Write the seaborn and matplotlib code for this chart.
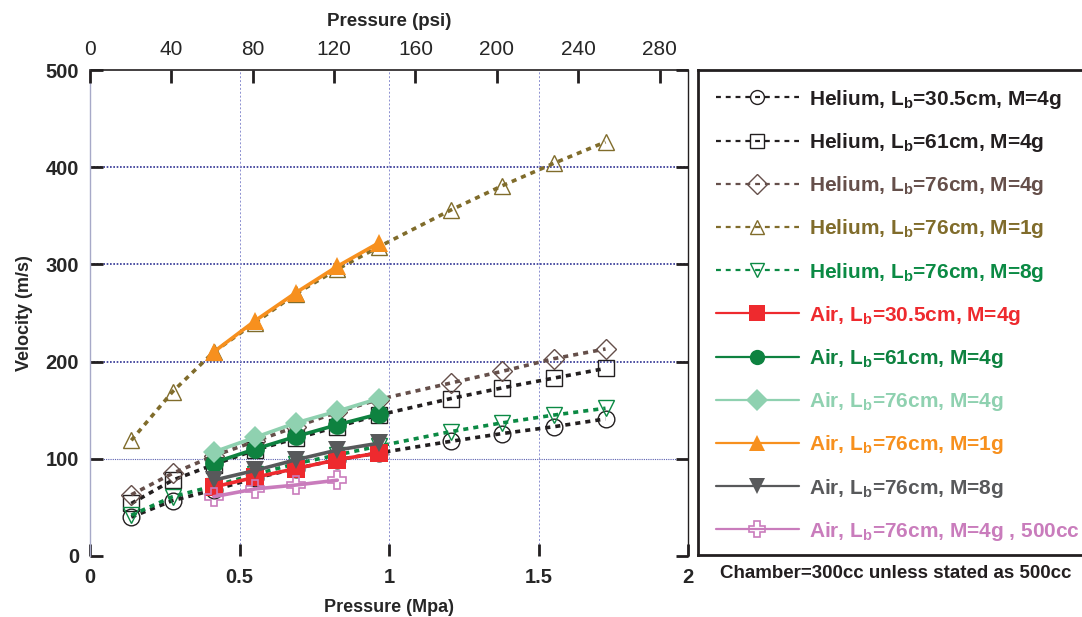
import matplotlib
matplotlib.use("Agg")
import matplotlib.pyplot as plt
import numpy as np
import pandas as pd
import seaborn as sns

# pressures in MPa (20..250 psi steps used in the tests)
p_helium = [0.138, 0.276, 0.414, 0.552, 0.689, 0.827, 0.965, 1.207, 1.379, 1.551, 1.724]
p_air = [0.414, 0.552, 0.689, 0.827, 0.965]
p_air500 = [0.414, 0.552, 0.689, 0.827]

he_305_4g = [40, 57, 68, 80, 90, 99, 106, 118, 126, 133, 141]
he_61_4g = [54, 78, 94, 109, 121, 133, 145, 162, 173, 183, 193]
he_76_4g = [63, 85, 103, 118, 133, 148, 161, 178, 190, 203, 213]
he_76_1g = [119, 169, 210, 240, 270, 295, 318, 356, 381, 404, 426]
he_76_8g = [42, 61, 72, 84, 95, 104, 113, 128, 137, 145, 152]

air_305_4g = [71, 81, 90, 99, 106]
air_61_4g = [96, 110, 123, 135, 146]
air_76_4g = [107, 122, 137, 149, 162]
air_76_1g = [210, 242, 271, 298, 322]
air_76_8g = [78, 88, 99, 109, 116]
air_76_4g_500 = [61, 69, 73, 78]

LB = r"L$_{\mathrm{b}}$"
series = [
    # label, x, y, color, marker, helium?
    (f"Helium, {LB}=30.5cm, M=4g", p_helium, he_305_4g, "#231f20", "o", True),
    (f"Helium, {LB}=61cm, M=4g", p_helium, he_61_4g, "#231f20", "s", True),
    (f"Helium, {LB}=76cm, M=4g", p_helium, he_76_4g, "#654f4a", "D", True),
    (f"Helium, {LB}=76cm, M=1g", p_helium, he_76_1g, "#806c2b", "^", True),
    (f"Helium, {LB}=76cm, M=8g", p_helium, he_76_8g, "#0b8a44", "v", True),
    (f"Air, {LB}=30.5cm, M=4g", p_air, air_305_4g, "#ee2a2e", "s", False),
    (f"Air, {LB}=61cm, M=4g", p_air, air_61_4g, "#0e8240", "o", False),
    (f"Air, {LB}=76cm, M=4g", p_air, air_76_4g, "#8fd1b0", "D", False),
    (f"Air, {LB}=76cm, M=1g", p_air, air_76_1g, "#f7901e", "^", False),
    (f"Air, {LB}=76cm, M=8g", p_air, air_76_8g, "#58595b", "v", False),
    (f"Air, {LB}=76cm, M=4g , 500cc", p_air500, air_76_4g_500, "#c97cbc", "P", False),
]

sns.set_theme(style="white")
plt.rcParams["font.family"] = ["Liberation Sans", "DejaVu Sans"]
plt.rcParams["mathtext.fontset"] = "custom"
plt.rcParams["mathtext.rm"] = "Liberation Sans:bold"
plt.rcParams["mathtext.it"] = "Liberation Sans:bold"
plt.rcParams["mathtext.bf"] = "Liberation Sans:bold"

fig = plt.figure(figsize=(10.82, 6.17), dpi=100)
ax = fig.add_axes([0.0832, 0.0989, 0.5527, 0.7876])

for label, x, y, color, marker, helium in series:
    df = pd.DataFrame({"p": x, "v": y})
    ms = 12 if marker != "D" else 10
    if helium:
        sns.lineplot(data=df, x="p", y="v", ax=ax, color=color, marker=marker,
                     markersize=ms, markerfacecolor="none", markeredgecolor=color,
                     markeredgewidth=1.0, linewidth=2.6, linestyle=(0, (1.4, 1.4)),
                     label=label, sort=False, errorbar=None)
    else:
        sns.lineplot(data=df, x="p", y="v", ax=ax, color=color, marker=marker,
                     markersize=ms + 1.5, markerfacecolor=color if marker != "P" else "none",
                     markeredgecolor=color, markeredgewidth=1.2 if marker == "P" else 0,
                     linewidth=2.6, linestyle="-", label=label, sort=False, errorbar=None)

ax.set_xlim(0, 2)
ax.set_ylim(0, 500)
ax.set_xticks([0, 0.5, 1, 1.5, 2])
ax.set_xticklabels(["0", "0.5", "1", "1.5", "2"])
ax.set_yticks(range(0, 501, 100))
ax.tick_params(direction="in", length=9, width=2, labelsize=14.5, right=True, left=True,
               bottom=True, color="#231f20")
ax.tick_params(axis="x", pad=9)
ax.tick_params(axis="y", pad=8)
for t in ax.get_xticklabels() + ax.get_yticklabels():
    t.set_fontweight("bold")
ax.set_xlabel("Pressure (Mpa)", fontsize=13, fontweight="bold", labelpad=8)
ax.set_ylabel("Velocity (m/s)", fontsize=13, fontweight="bold", labelpad=9)

# grid
for yv in [100, 200, 300, 400]:
    ax.axhline(yv, color="#2e3192" if yv > 100 else "#5a5fb0", lw=1.2 if yv > 100 else 0.8,
               ls=(0, (1, 1)), zorder=0.5)
for xv in [0.5, 1.0, 1.5]:
    ax.axvline(xv, color="#8b8fd0", lw=0.7, ls=(0, (2, 2)), zorder=0.5)

ax.spines["top"].set_color("#231f20")
ax.spines["top"].set_linewidth(1.2)
ax.spines["right"].set_color("#231f20")
ax.spines["right"].set_linewidth(1.0)
ax.spines["left"].set_color("#a7a9c8")
ax.spines["left"].set_linewidth(1.0)
ax.spines["bottom"].set_visible(False)

# top psi axis
top = ax.twiny()
top.set_xlim(0, 294)
top.set_xticks(range(0, 281, 40))
top.tick_params(direction="in", length=9, width=2, labelsize=15, color="#231f20", pad=8)
for t in top.get_xticklabels():
    t.set_family(["Liberation Sans Narrow", "Liberation Sans"])
top.set_xlabel("Pressure (psi)", fontsize=13.5, fontweight="bold", labelpad=10)
for s in top.spines.values():
    s.set_visible(False)

# legend panel
handles, labels = ax.get_legend_handles_labels()
ax.get_legend().remove()
lax = fig.add_axes([698 / 1082, (617 - 555) / 617, 0.4, (555 - 70) / 617])
lax.set_xticks([])
lax.set_yticks([])
lax.set_facecolor("white")
for side in ["left", "top", "bottom"]:
    lax.spines[side].set_color("#231f20")
    lax.spines[side].set_linewidth(2)
lax.spines["right"].set_visible(False)
leg = lax.legend(handles, labels, loc="upper left", bbox_to_anchor=(0.0, 1.0), frameon=False,
                 prop={"weight": "bold", "size": 15}, handlelength=4.0, handletextpad=0.5,
                 labelspacing=0.97, borderaxespad=0.3, borderpad=0.55)
for t, h, s in zip(leg.get_texts(), leg.legend_handles, series):
    t.set_color(s[3])
    h.set_linewidth(1.6)
    h.set_markersize(10 if s[5] else 11)
    if s[5]:
        h.set_linestyle((0, (2.2, 2.2)))

fig.text(0.828, 0.071, "Chamber=300cc unless stated as 500cc", fontsize=13.5,
         fontweight="bold", ha="center", va="center", color="#231f20")

fig.savefig("out.png", dpi=100)
